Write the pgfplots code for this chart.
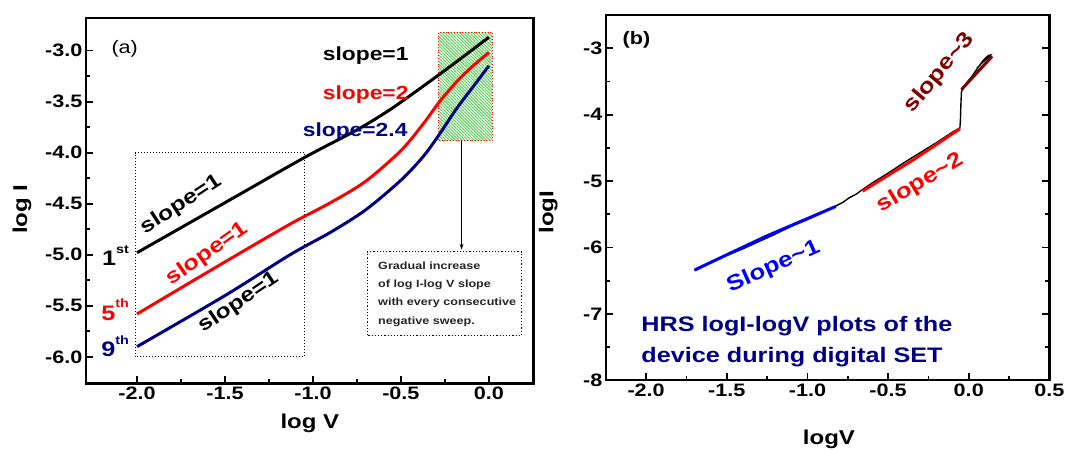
\documentclass[border=0pt]{standalone}
\usepackage{pgfplots}
\pgfplotsset{compat=1.18}
\usepackage{fontspec}
\setmainfont{Liberation Sans}[FakeStretch=1.2]
\usetikzlibrary{patterns.meta,arrows.meta}
\definecolor{navy}{RGB}{0,0,135}
\definecolor{dkred}{RGB}{128,0,0}
\definecolor{hatch}{RGB}{70,205,70}

\pgfplotsset{
  panel/.style={
    scale only axis, clip=false, anchor=south west,
    axis line style={line width=2.5pt},
    tick style={line width=1.8pt, black},
    major tick length=7pt, minor tick length=4pt,
    tick align=inside, minor tick num=1,
    xtick pos=bottom,
    ticklabel style={font=\bfseries\fontsize{18}{20}\selectfont},
    label style={font=\bfseries\fontsize{20}{24}\selectfont},
    /pgf/number format/fixed,
    /pgf/number format/fixed zerofill,
    /pgf/number format/precision=1,
    /pgf/number format/assume math mode=true,
  },
}
\tikzset{big/.style={font=\bfseries\fontsize{#1}{#1}\selectfont}}

\begin{document}
\begin{tikzpicture}
\useasboundingbox (-86pt,-66.6pt) rectangle (983pt,383.4pt);

% ---------- (a) ----------
\begin{axis}[panel, at={(0pt,0pt)},
  width=447.7pt, height=365.5pt,
  xmin=-2.29, xmax=0.255, ymin=-6.26, ymax=-2.68,
  xtick={-2,-1.5,-1,-0.5,0}, ytick={-6,-5.5,-5,-4.5,-4,-3.5,-3},
  ytick pos=left,
  xlabel={log V}, ylabel={log I},
  xlabel style={at={(axis description cs:0.5,-0.108)}, anchor=center},
  ylabel style={at={(axis description cs:-0.143,0.477)}, anchor=center},
]
\fill[pattern={Lines[angle=-45,distance=2.2pt,line width=0.9pt]}, pattern color=hatch]
  (axis cs:-0.285,-3.876) rectangle (axis cs:0.02,-2.82);
\draw[red, dotted, line width=0.8pt] (axis cs:-0.285,-3.876) rectangle (axis cs:0.02,-2.82);
\draw[dotted, line width=1pt] (axis cs:-2.01,-6.0) rectangle (axis cs:-1.047,-4.0);
\draw[dotted, line width=1.2pt] (axis cs:-0.69,-5.79) rectangle (axis cs:0.186,-4.97);
\draw[-{Stealth[length=6pt,width=4pt]}, line width=0.8pt] (axis cs:-0.155,-3.876) -- (axis cs:-0.155,-4.95);

\addplot[black, line width=3pt, smooth] coordinates {
  (-2.0,-4.98) (-1.5,-4.49) (-1.04,-4.04) (-0.753,-3.78)
  (-0.563,-3.58) (-0.374,-3.35) (-0.2,-3.13) (0.0,-2.87)};
\addplot[red, line width=3pt, smooth] coordinates {
  (-2.0,-5.58) (-1.5,-5.07) (-1.13,-4.70) (-0.9,-4.49) (-0.7,-4.28)
  (-0.5,-3.98) (-0.374,-3.72) (-0.28,-3.50) (-0.18,-3.30) (-0.09,-3.15)
  (0.0,-3.02)};
\addplot[navy, line width=3pt, smooth] coordinates {
  (-2.0,-5.90) (-1.5,-5.40) (-1.13,-5.00) (-0.9,-4.78) (-0.7,-4.56)
  (-0.5,-4.27) (-0.374,-4.04) (-0.285,-3.83) (-0.184,-3.57) (-0.07,-3.31)
  (0.0,-3.15)};

\node[font=\fontsize{18}{18}\selectfont] at (axis cs:-2.07,-2.98) {(a)};
\node[big=19] at (axis cs:-0.70,-3.05) {slope=1};
\node[big=19, red] at (axis cs:-0.70,-3.43) {slope=2};
\node[big=19, navy] at (axis cs:-0.76,-3.79) {slope=2.4};
\node[big=20.5, rotate=33] at (axis cs:-1.75,-4.51) {slope=1};
\node[big=21, red, rotate=35] at (axis cs:-1.60,-4.99) {slope=1};
\node[big=20.5, rotate=34] at (axis cs:-1.42,-5.47) {slope=1};
\node[big=21, anchor=base east, inner sep=0pt] at (axis cs:-2.045,-5.11)
  {1\raisebox{0.6em}{\fontsize{12}{12}\selectfont st}};
\node[big=21, red, anchor=base east, inner sep=0pt] at (axis cs:-2.045,-5.64)
  {5\raisebox{0.6em}{\fontsize{12}{12}\selectfont th}};
\node[big=21, navy, anchor=base east, inner sep=0pt] at (axis cs:-2.045,-6.0)
  {9\raisebox{0.6em}{\fontsize{12}{12}\selectfont th}};
\node[anchor=north west, align=left, inner sep=0pt, text=black!85,
  font=\bfseries\fontsize{10.5}{18.3}\selectfont] at (axis cs:-0.63,-5.065)
  {Gradual increase\\of log I-log V slope\\with every consecutive\\negative sweep.};
\end{axis}

% ---------- (b) ----------
\begin{axis}[panel, at={(519.8pt,3.2pt)},
  width=443.6pt, height=365pt,
  xmin=-2.25, xmax=0.5, ymin=-8, ymax=-2.5,
  xtick={-2,-1.5,-1,-0.5,0,0.5}, ytick={-8,-7,-6,-5,-4,-3},
  ytick pos=both, yticklabel pos=left,
  yticklabel style={/pgf/number format/precision=0},
  xlabel={logV}, ylabel={logI},
  xlabel style={at={(axis description cs:0.503,-0.161)}, anchor=center},
  ylabel style={at={(axis description cs:-0.13,0.46)}, anchor=center},
]
\addplot[black, line width=1.4pt] coordinates {
  (-1.70,-6.35) (-1.60,-6.23) (-1.50,-6.12) (-1.40,-6.02) (-1.30,-5.91)
  (-1.20,-5.80) (-1.10,-5.68) (-1.00,-5.58) (-0.90,-5.47) (-0.82,-5.37)
  (-0.78,-5.32) (-0.74,-5.25) (-0.70,-5.20) (-0.66,-5.13) (-0.60,-5.03)
  (-0.50,-4.88) (-0.40,-4.72) (-0.30,-4.57) (-0.20,-4.42) (-0.10,-4.26)
  (-0.055,-4.20) (-0.052,-4.10) (-0.050,-3.95) (-0.048,-3.80) (-0.045,-3.65)
  (-0.02,-3.54) (0.02,-3.42) (0.06,-3.28) (0.09,-3.18) (0.12,-3.11)
  (0.135,-3.10) (0.12,-3.14) (0.09,-3.20) (0.05,-3.30)};
\addplot[blue, line width=3pt] coordinates {
  (-1.70,-6.34) (-1.265,-5.84) (-0.823,-5.38)};
\addplot[red, line width=3pt] coordinates {
  (-0.658,-5.15) (-0.344,-4.68) (-0.054,-4.21)};
\addplot[dkred, line width=3pt] coordinates {
  (-0.045,-3.62) (0.145,-3.12)};

\node[big=18] at (axis cs:-2.06,-2.87) {(b)};
\node[big=21.5, dkred, rotate=50] at (axis cs:-0.18,-3.37) {slope\textasciitilde3};
\node[big=21.5, red, rotate=31] at (axis cs:-0.30,-5.03) {slope\textasciitilde2};
\node[big=21.5, blue, rotate=24] at (axis cs:-1.21,-6.29) {Slope\textasciitilde1};
\node[big=21, navy, anchor=base west, inner sep=0pt] at (axis cs:-2.03,-7.265)
  {HRS logI-logV plots of the};
\node[big=21, navy, anchor=base west, inner sep=0pt] at (axis cs:-2.03,-7.735)
  {device during digital SET};
\end{axis}
\end{tikzpicture}
\end{document}
